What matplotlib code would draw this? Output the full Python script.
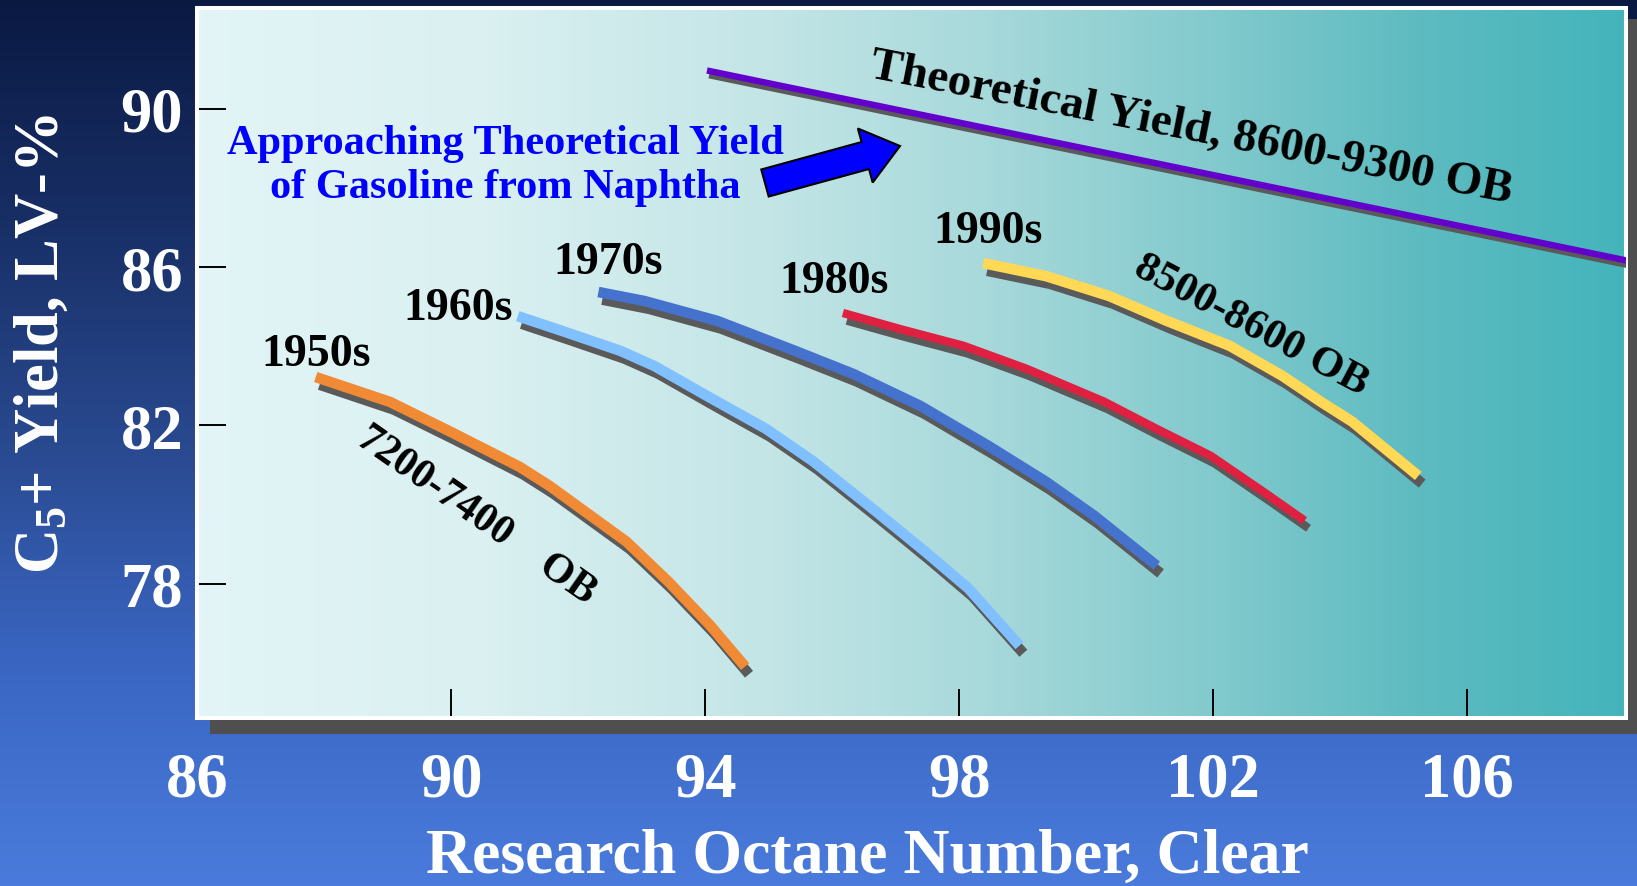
import numpy as np
import matplotlib
matplotlib.use("Agg")
import matplotlib.pyplot as plt
from matplotlib.colors import LinearSegmentedColormap
from matplotlib import patheffects as pe
from matplotlib.patches import Rectangle, FancyArrow
from matplotlib.transforms import IdentityTransform

# ---------------- data ----------------
ron_1950s = [87.87, 89.04, 90.00, 91.08, 91.55, 92.76, 93.42, 94.08, 94.63]
yld_1950s = [83.22, 82.59, 81.83, 80.95, 80.47, 79.06, 78.05, 76.94, 75.90]

ron_1960s = [91.05, 91.76, 92.67, 93.20, 94.11, 94.96, 95.71, 96.70, 97.47, 98.15, 98.95]
yld_1960s = [84.76, 84.38, 83.88, 83.50, 82.67, 81.91, 81.08, 79.81, 78.80, 77.87, 76.43]

ron_1970s = [92.32, 93.05, 94.19, 95.42, 96.33, 97.39, 98.46, 99.37, 100.13, 101.11]
yld_1970s = [85.37, 85.14, 84.64, 83.88, 83.30, 82.49, 81.48, 80.57, 79.71, 78.45]

ron_1980s = [96.17, 97.08, 98.07, 99.06, 100.28, 101.11, 101.96, 102.79, 103.44]
yld_1980s = [84.84, 84.43, 84.01, 83.43, 82.60, 81.91, 81.23, 80.32, 79.59]

ron_1990s = [98.38, 99.37, 100.36, 101.27, 102.26, 103.09, 103.69, 104.19, 105.23]
yld_1990s = [86.10, 85.77, 85.27, 84.64, 84.01, 83.25, 82.60, 82.09, 80.72]

ron_theory = [94.03, 108.5]
yld_theory = [90.97, 86.17]

x_ticks = [86, 90, 94, 98, 102, 106]
y_ticks = [78, 82, 86, 90]

# ---------------- style ----------------
plt.rcParams["font.family"] = ["Liberation Serif", "DejaVu Serif"]
plt.rcParams["font.weight"] = "bold"
plt.rcParams["axes.labelweight"] = "bold"
plt.rcParams["mathtext.fontset"] = "custom"
plt.rcParams["mathtext.rm"] = "Liberation Serif:bold"
plt.rcParams["mathtext.bf"] = "Liberation Serif:bold"
plt.rcParams["mathtext.it"] = "Liberation Serif:bold:italic"

W, H = 1637, 887
fig = plt.figure(figsize=(W / 100, H / 100), dpi=100)

# slide background: vertical navy-to-blue gradient plus frame shadow
bg = fig.add_axes([0, 0, 1, 1], zorder=-1)
bg_cmap = LinearSegmentedColormap.from_list(
    "slide", [(0.0, "#0a1942"), (0.25, "#182f66"), (0.5, "#29498f"),
              (0.75, "#3a66c2"), (1.0, "#4a7bdc")])
bg.imshow(np.linspace(0, 1, 256).reshape(-1, 1), cmap=bg_cmap, aspect="auto",
          extent=[0, 1, 0, 1], origin="upper")
bg.add_patch(Rectangle((210 / W, (H - 735) / H), 1440 / W, 715 / H,
                       facecolor="#4f4f4f", edgecolor="none"))
bg.set_xlim(0, 1)
bg.set_ylim(0, 1)
bg.axis("off")

# main plotting area
ax = fig.add_axes([197 / W, (H - 719) / H, 1429 / W, 710 / H])
ax.patch.set_alpha(0)
area_cmap = LinearSegmentedColormap.from_list(
    "area", [(0.0, "#e3f5f6"), (0.2, "#daf0f1"), (0.4, "#c3e5e6"),
             (0.55, "#a8d9db"), (0.7, "#85cbce"), (0.85, "#5fbcc1"),
             (1.0, "#44b4bb")])
ax.imshow(np.linspace(0, 1, 256).reshape(1, -1), cmap=area_cmap, aspect="auto",
          extent=[0, 1, 0, 1], transform=ax.transAxes, zorder=0)


def shadowed(x, y, color, lw=7.6, off=(2.8, -5.5)):
    ax.plot(x, y, color=color, lw=lw, solid_capstyle="butt",
            solid_joinstyle="round", zorder=3,
            path_effects=[pe.SimpleLineShadow(offset=off, shadow_color="#5a5a5a",
                                              alpha=1.0),
                          pe.Normal()])


shadowed(ron_theory, yld_theory, "#6300cc", lw=4.6, off=(1.5, -3.4))
shadowed(ron_1950s, yld_1950s, "#f08a35")
shadowed(ron_1960s, yld_1960s, "#80c0ff")
shadowed(ron_1970s, yld_1970s, "#4472cc")
shadowed(ron_1980s, yld_1980s, "#e02040", lw=6.0)
shadowed(ron_1990s, yld_1990s, "#ffd855")

ax.set_xlim(86, 108.5)
ax.set_ylim(74.6, 92.55)

# axes frame and ticks
for sp in ax.spines.values():
    sp.set_color("white")
    sp.set_linewidth(2.9)
ax.set_xticks(x_ticks)
ax.set_yticks(y_ticks)
ax.tick_params(direction="in", length=21, width=1.4, color="black",
               labelcolor="white", labelsize=45)
ax.tick_params(axis="x", pad=24)
ax.tick_params(axis="y", pad=10)
ax.xaxis.get_major_ticks()[0].tick1line.set_visible(False)

ax.set_xlabel("Research Octane Number, Clear", color="white", fontsize=46,
              fontweight="bold", va="center")
ax.xaxis.set_label_coords(0.469, -0.196)
ax.set_ylabel("C$_5$+ Yield, LV-%", color="white", fontsize=45,
              fontweight="bold", va="center")
ax.yaxis.set_label_coords(-0.108, 0.528)

# curve annotations
lab = dict(fontsize=33, color="black", ha="center", va="center", zorder=5)
ax.text(87.88, 83.80, "1950s", **lab)
ax.text(90.11, 84.96, "1960s", **lab)
ax.text(92.47, 86.13, "1970s", **lab)
ax.text(96.03, 85.65, "1980s", **lab)
ax.text(98.46, 86.91, "1990s", **lab)

ax.text(101.66, 89.51, "Theoretical Yield, 8600-9300 OB", fontsize=34,
        color="black", ha="center", va="center", rotation=-11.1,
        rotation_mode="anchor", zorder=5)
ax.text(102.59, 84.53, "8500-8600 OB", fontsize=31, color="black",
        ha="center", va="center", rotation=-28, rotation_mode="anchor", zorder=5)
ax.text(90.4, 79.75, "7200-7400    OB", fontsize=30, color="black",
        ha="center", va="center", rotation=-35, rotation_mode="anchor", zorder=5)

ax.text(90.85, 88.59, "Approaching Theoretical Yield\nof Gasoline from Naphtha",
        fontsize=30.5, color="#0000ff", ha="center", va="center",
        multialignment="center", linespacing=1.2, zorder=5)

# block arrow pointing to the theoretical yield line
ax.add_patch(FancyArrow(765, H - 184, 135, 37, width=28, head_width=56,
                        head_length=36, length_includes_head=True,
                        facecolor="#0000ff", edgecolor="black", linewidth=1.5,
                        transform=IdentityTransform(), zorder=5))

fig.savefig("out.png", dpi=100)
